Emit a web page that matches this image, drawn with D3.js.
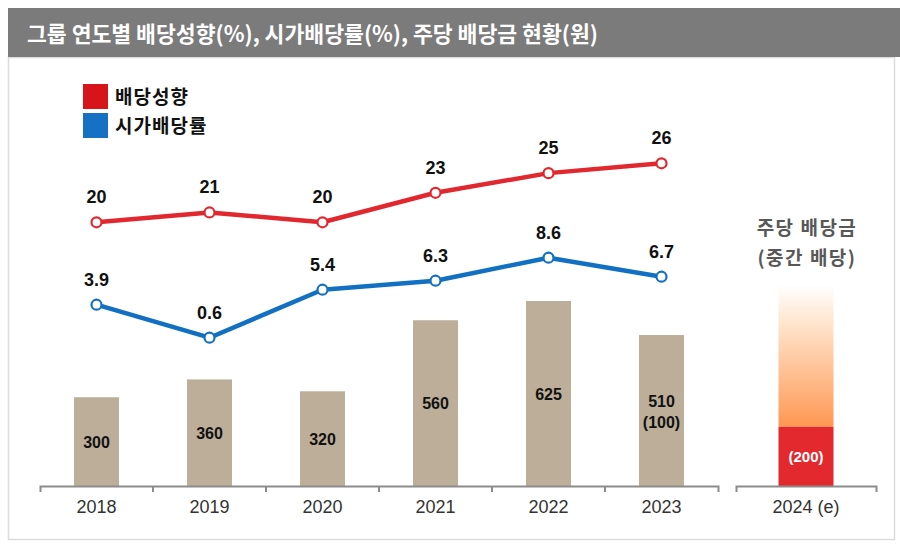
<!DOCTYPE html>
<html>
<head>
<meta charset="utf-8">
<script src="https://cdn.jsdelivr.net/npm/d3@7/dist/d3.min.js"></script>
<style>
  html, body { margin: 0; padding: 0; background: #fff; }
  svg { display: block; }
</style>
</head>
<body>
<div id="chart"></div>
<script>
// ---- data ----
const title = "그룹 연도별 배당성향(%), 시가배당률(%), 주당 배당금 현황(원)";
const years = ["2018", "2019", "2020", "2021", "2022", "2023"];
const payoutRatio = [20, 21, 20, 23, 25, 26];          // 배당성향 (%)
const dividendYield = [3.9, 0.6, 5.4, 6.3, 8.6, 6.7];   // 시가배당률 (%)
const dps = [300, 360, 320, 560, 625, 510];             // 주당 배당금 (원)
const dpsInterim = [null, null, null, null, null, 100]; // 중간 배당 (원)
const estYear = ["2024 (e)"];
const estInterim = [200];                               // 2024 중간 배당
const estOutlook = [680];                               // gradient outlook bar extent
const legendLabels = ["배당성향", "시가배당률"];
const estCaption = ["주당 배당금", "(중간 배당)"];

const W = 900, H = 549;
const KR = "'Noto Sans CJK KR', 'Noto Sans', sans-serif";
const NUM = "'Liberation Sans', Arial, sans-serif";
const RED = "#e1282f", BLUE = "#1270c2", BEIGE = "#bdae99";

const svg = d3.select("#chart").append("svg").attr("width", W).attr("height", H);

// panel + title bar
svg.append("rect").attr("x", 8.5).attr("y", 57.5).attr("width", 886).attr("height", 482)
  .attr("fill", "#fff").attr("stroke", "#dcdcdc").attr("stroke-width", 1.5);
svg.append("rect").attr("x", 8).attr("y", 8).attr("width", 892).attr("height", 49).attr("fill", "#7b7b7b");
svg.append("text").attr("x", 27).attr("y", 42).attr("fill", "#fff")
  .attr("font-family", KR).attr("font-weight", 700).attr("font-size", 22)
  .attr("textLength", 571).attr("lengthAdjust", "spacingAndGlyphs").text(title);

// scales
const baseY = 486;
const x = d3.scaleBand().domain(years).range([40, 718]).padding(0);
const x2 = d3.scaleBand().domain(estYear).range([736, 876]).padding(0);
const yBar = d3.scaleLinear().domain([0, 1000]).range([baseY, baseY - 296]);
const yRed = d3.scaleLinear().domain([20, 26]).range([222.3, 163.3]);
const yBlue = d3.scaleLinear().domain([0.6, 8.6]).range([337.7, 257.7]);
const cx = d => x(d) + x.bandwidth() / 2;

// gradient
const defs = svg.append("defs");
const grad = defs.append("linearGradient").attr("id", "g24").attr("x1", 0).attr("y1", 0).attr("x2", 0).attr("y2", 1);
grad.append("stop").attr("offset", "0%").attr("stop-color", "#ffffff");
grad.append("stop").attr("offset", "30%").attr("stop-color", "#ffe2c9");
grad.append("stop").attr("offset", "100%").attr("stop-color", "#ff9752");

// bars
const barW = 45;
const barData = years.map((y, i) => ({ y, v: dps[i], sub: dpsInterim[i] }));
svg.append("g").selectAll("rect").data(barData).join("rect")
  .attr("x", d => cx(d.y) - barW / 2).attr("width", barW)
  .attr("y", d => yBar(d.v)).attr("height", d => baseY - yBar(d.v))
  .attr("fill", BEIGE);
const bl = svg.append("g").attr("font-family", NUM).attr("font-weight", 700).attr("font-size", 16)
  .attr("fill", "#111").attr("text-anchor", "middle");
barData.forEach(d => {
  const mid = (yBar(d.v) + baseY) / 2;
  if (d.sub == null) {
    bl.append("text").attr("x", cx(d.y)).attr("y", mid + 6).text(d.v);
  } else {
    bl.append("text").attr("x", cx(d.y)).attr("y", mid - 4).text(d.v);
    bl.append("text").attr("x", cx(d.y)).attr("y", mid + 17).text("(" + d.sub + ")");
  }
});

// 2024 estimated bar
const bw2 = 55, c2 = x2(estYear[0]) + x2.bandwidth() / 2;
svg.append("rect").attr("x", c2 - bw2 / 2).attr("width", bw2)
  .attr("y", yBar(estOutlook[0])).attr("height", yBar(estInterim[0]) - yBar(estOutlook[0]))
  .attr("fill", "url(#g24)");
svg.append("rect").attr("x", c2 - bw2 / 2).attr("width", bw2)
  .attr("y", yBar(estInterim[0])).attr("height", baseY - yBar(estInterim[0]))
  .attr("fill", "#e3282e");
svg.append("text").attr("x", c2).attr("y", (yBar(estInterim[0]) + baseY) / 2 + 6)
  .attr("text-anchor", "middle").attr("font-family", NUM).attr("font-weight", 700)
  .attr("font-size", 15).attr("fill", "#fff").text("(" + estInterim[0] + ")");
svg.append("g").attr("font-family", KR).attr("font-weight", 700).attr("font-size", 19)
  .attr("fill", "#585858").attr("text-anchor", "middle").attr("letter-spacing", 1.5)
  .selectAll("text").data(estCaption).join("text")
  .attr("x", c2 + 1).attr("y", (d, i) => 235 + i * 30).text(d => d);

// axes
function drawAxis(scale) {
  const g = svg.append("g").attr("transform", `translate(0,${baseY})`)
    .call(d3.axisBottom(scale).tickSizeInner(0).tickSizeOuter(6).tickPadding(14));
  g.select(".domain").attr("stroke", "#8c8c8c").attr("stroke-width", 2);
  g.selectAll(".tick text").attr("font-family", NUM).attr("font-size", 18).attr("fill", "#333");
  // boundary ticks between bands
  const bounds = scale.domain().slice(1).map(d => scale(d));
  g.selectAll(".btick").data(bounds).join("line").attr("class", "btick")
    .attr("x1", d => d).attr("x2", d => d).attr("y1", 0).attr("y2", 6)
    .attr("stroke", "#8c8c8c").attr("stroke-width", 2);
  return g;
}
drawAxis(x);
drawAxis(x2);

// lines
function drawLine(vals, yScale, color, fmt) {
  const pts = years.map((y, i) => [cx(y), yScale(vals[i]), vals[i]]);
  svg.append("path").datum(pts)
    .attr("d", d3.line().x(d => d[0]).y(d => d[1]))
    .attr("fill", "none").attr("stroke", color).attr("stroke-width", 4.5)
    .attr("stroke-linejoin", "round");
  svg.append("g").selectAll("circle").data(pts).join("circle")
    .attr("cx", d => d[0]).attr("cy", d => d[1]).attr("r", 5)
    .attr("fill", "#fff").attr("stroke", color).attr("stroke-width", 2.2);
  svg.append("g").attr("font-family", NUM).attr("font-weight", 700).attr("font-size", 18)
    .attr("fill", "#111").attr("text-anchor", "middle")
    .selectAll("text").data(pts).join("text")
    .attr("x", d => d[0]).attr("y", d => d[1] - 19).text(d => fmt(d[2]));
}
drawLine(payoutRatio, yRed, RED, d => d3.format("d")(d));
drawLine(dividendYield, yBlue, BLUE, d => d3.format(".1f")(d));

// legend
const lg = svg.append("g");
const legendColors = ["#d8141b", "#1670c4"];
legendLabels.forEach((lab, i) => {
  lg.append("rect").attr("x", 83).attr("y", 84 + i * 29).attr("width", 25).attr("height", 25)
    .attr("fill", legendColors[i]);
  lg.append("text").attr("x", 115).attr("y", 104 + i * 29)
    .attr("font-family", KR).attr("font-weight", 700).attr("font-size", 19)
    .attr("letter-spacing", 1).attr("fill", "#111").text(lab);
});
</script>
</body>
</html>
